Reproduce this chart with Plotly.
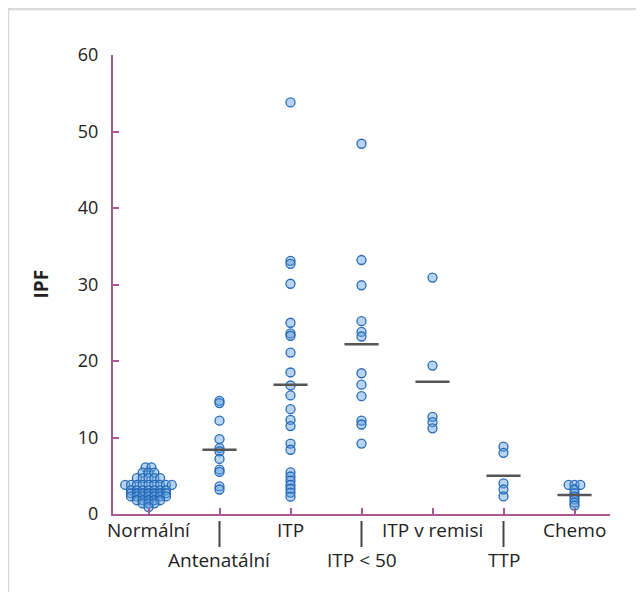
import plotly.graph_objects as go

categories = ["Normální", "Antenatální", "ITP", "ITP < 50", "ITP v remisi", "TTP", "Chemo"]

normalni = [6.1, 6.1,
            5.4, 5.4, 5.4,
            4.7, 4.7, 4.7, 4.7, 4.7,
            3.8, 3.8, 3.8, 3.8, 3.8, 3.8, 3.8, 3.8, 3.8,
            3.1, 3.1, 3.1, 3.1, 3.1, 3.1, 3.1,
            2.7, 2.7, 2.7, 2.7, 2.7, 2.7, 2.7,
            2.3, 2.3, 2.3, 2.3, 2.3, 2.3, 2.3,
            1.8, 1.8, 1.8, 1.8, 1.8,
            1.4, 1.4, 1.4,
            0.9]
antenatalni = [14.8, 14.5, 12.2, 9.8, 8.6, 8.2, 7.2, 5.8, 5.5, 3.6, 3.2]
itp = [53.8, 33.1, 32.7, 30.1, 25.0, 23.6, 23.3, 21.1, 18.5, 16.8, 15.5, 13.7,
       12.3, 11.5, 9.2, 8.4, 5.45, 4.9, 4.35, 3.8, 3.3, 2.8, 2.26]
itp_pod_50 = [48.4, 33.2, 29.9, 25.2, 23.8, 23.2, 18.4, 16.9, 15.4, 12.2, 11.7, 9.2]
itp_remise = [30.9, 19.4, 12.7, 12.0, 11.2]
ttp = [8.8, 8.0, 4.0, 3.2, 2.3]
chemo = [3.8, 3.8, 3.8, 3.2, 2.7, 2.3, 1.9, 1.5, 1.1]

series = [normalni, antenatalni, itp, itp_pod_50, itp_remise, ttp, chemo]
means = [3.2, 8.4, 16.9, 22.2, 17.3, 5.0, 2.5]

y_ticks = [0, 10, 20, 30, 40, 50, 60]

AXIS = "#a85a93"
TEXT = "#222222"
FONT = "Open Sans"
DX = 0.082      # horizontal spread between identical values (category units)
HALF = 0.24     # half width of mean line

W, H = 636, 584
ML, MR, MT, MB = 105, 34, 47, 78
PW, PH = W - ML - MR, H - MT - MB

xs, ys = [], []
for i, vals in enumerate(series):
    groups = {}
    for v in vals:
        groups.setdefault(round(v, 2), []).append(v)
    for v, g in groups.items():
        n = len(g)
        for k in range(n):
            xs.append(i + (k - (n - 1) / 2) * DX)
            ys.append(v)

fig = go.Figure()

fig.add_trace(go.Scatter(x=[0 - HALF, 0 + HALF], y=[means[0], means[0]], mode="lines",
                         line=dict(color="#555555", width=2.5), hoverinfo="skip", showlegend=False))

fig.add_trace(go.Scatter(
    x=xs, y=ys, mode="markers",
    marker=dict(size=9, color="rgba(100,160,222,0.45)",
                line=dict(color="rgba(30,100,180,0.95)", width=1.3)),
    showlegend=False))

mx, my = [], []
for i, m in enumerate(means):
    if i == 0:
        continue
    mx += [i - HALF, i + HALF, None]
    my += [m, m, None]
fig.add_trace(go.Scatter(x=mx, y=my, mode="lines",
                         line=dict(color="#555555", width=2.5), hoverinfo="skip", showlegend=False))

annotations = []
shapes = []
for i, c in enumerate(categories):
    lower = (i % 2 == 1)
    annotations.append(dict(x=i, xref="x", y=0, yref="y", text=c, showarrow=False,
                            yshift=-46 if lower else -16, yanchor="middle", xanchor="center",
                            font=dict(family=FONT, size=19, color=TEXT)))
    if lower:
        shapes.append(dict(type="line", xref="x", yref="paper", x0=i, x1=i,
                           y0=-7 / PH, y1=-33 / PH,
                           line=dict(color="#444444", width=2)))

annotations.append(dict(x=(32 - ML) / PW, xref="paper", y=0.5, yref="paper",
                        text="<b>IPF</b>", textangle=-90, showarrow=False,
                        xanchor="center", yanchor="middle",
                        font=dict(family=FONT, size=19, color=TEXT)))

shapes.append(dict(type="rect", xref="paper", yref="paper",
                   x0=(0 - ML) / PW, x1=1.5, y0=-1.0, y1=1 + (MT - 1) / PH,
                   line=dict(color="#d9d9d9", width=2.5), layer="below"))

fig.update_layout(
    width=W, height=H,
    margin=dict(l=ML, r=MR, t=MT, b=MB),
    paper_bgcolor="white", plot_bgcolor="white",
    font=dict(family=FONT, size=18, color=TEXT),
    annotations=annotations, shapes=shapes,
    xaxis=dict(range=[-0.5, 6.5], tickvals=[0, 1, 2, 3, 4, 5, 6, 6.5], showticklabels=False,
               ticks="inside", ticklen=6, tickwidth=2, tickcolor=AXIS,
               showline=True, linecolor=AXIS, linewidth=2,
               showgrid=False, zeroline=False, fixedrange=True),
    yaxis=dict(range=[0, 60], tickvals=y_ticks, ticks="inside", ticklen=6, tickwidth=2,
               tickcolor=AXIS, showline=True, linecolor=AXIS, linewidth=2,
               showgrid=False, zeroline=False, ticklabelstandoff=9,
               tickfont=dict(family=FONT, size=18, color=TEXT), fixedrange=True),
)

fig.write_html("out.html")
